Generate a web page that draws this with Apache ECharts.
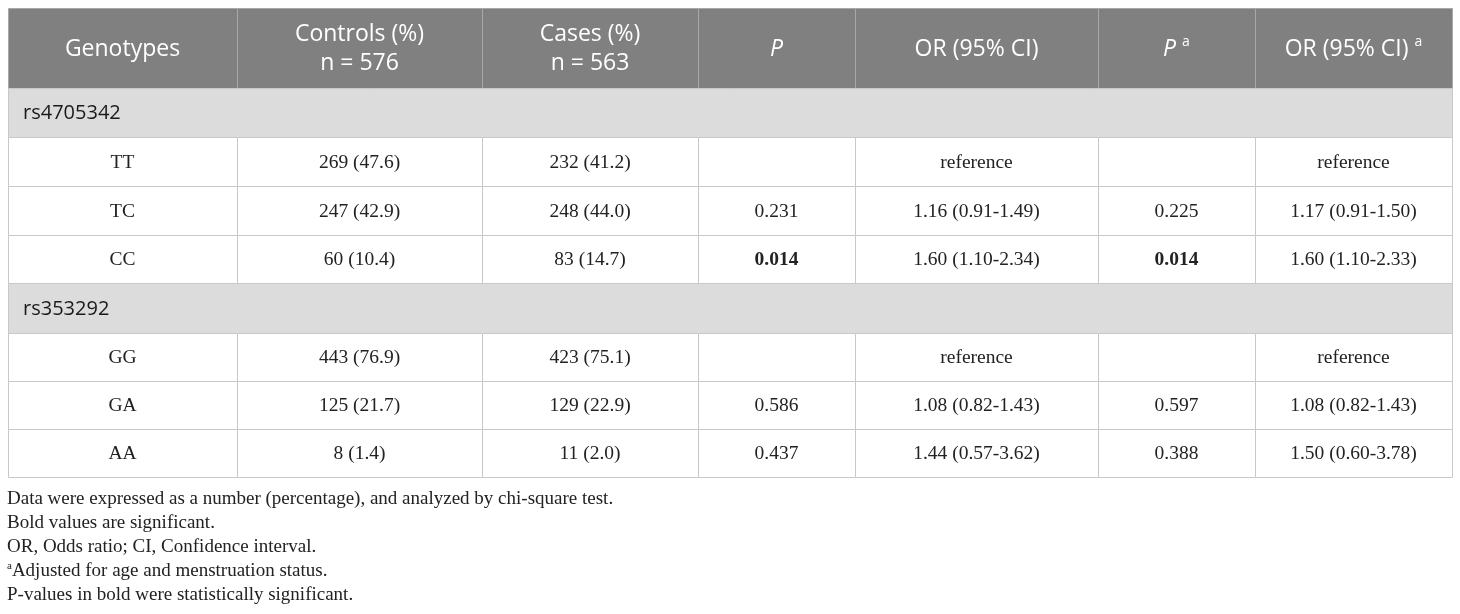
<!DOCTYPE html>
<html>
<head>
<meta charset="utf-8">
<script src="https://cdn.jsdelivr.net/npm/echarts@6/dist/echarts.min.js"></script>
<style>
html, body { margin: 0; padding: 0; background: #fff; }
#main { width: 1460px; height: 614px; }
</style>
</head>
<body>
<div id="main"></div>
<script>
// table content
const columns = ['Genotypes', 'Controls (%)', 'Cases (%)', 'P', 'OR (95% CI)', 'P', 'OR (95% CI)'];
const adjusted = [false, false, false, false, false, true, true];
const groupN = [576, 563];
const snps = ['rs4705342', 'rs353292'];
const genotypes = [['TT', 'TC', 'CC'], ['GG', 'GA', 'AA']];
const controlN = [[269, 247, 60], [443, 125, 8]];
const controlPct = [[47.6, 42.9, 10.4], [76.9, 21.7, 1.4]];
const caseN = [[232, 248, 83], [423, 129, 11]];
const casePct = [[41.2, 44.0, 14.7], [75.1, 22.9, 2.0]];
const pCrude = [[null, 0.231, 0.014], [null, 0.586, 0.437]];
const orCrude = [[null, 1.16, 1.60], [null, 1.08, 1.44]];
const orCrudeLow = [[null, 0.91, 1.10], [null, 0.82, 0.57]];
const orCrudeHigh = [[null, 1.49, 2.34], [null, 1.43, 3.62]];
const pAdj = [[null, 0.225, 0.014], [null, 0.597, 0.388]];
const orAdj = [[null, 1.17, 1.60], [null, 1.08, 1.50]];
const orAdjLow = [[null, 0.91, 1.10], [null, 0.82, 0.60]];
const orAdjHigh = [[null, 1.50, 2.33], [null, 1.43, 3.78]];
const footnotes = [
    'Data were expressed as a number (percentage), and analyzed by chi-square test.',
    'Bold values are significant.',
    'OR, Odds ratio; CI, Confidence interval.',
    '{sup|a}Adjusted for age and menstruation status.',
    'P-values in bold were statistically significant.'
];

// layout (pixels inside the grid)
const colEdges = [0, 229, 474, 690, 847, 1090, 1247, 1444];
const rowHeights = [80, 49, 49, 49, 48, 50, 48, 48, 48];
const rowEdges = [0];
rowHeights.forEach(h => rowEdges.push(rowEdges[rowEdges.length - 1] + h));

const sansFont = '"Open Sans", "Noto Sans", sans-serif';
const serifFont = '"Liberation Serif", "DejaVu Serif", serif';

const fmtOr = (v, lo, hi) => v == null ? 'reference' : v.toFixed(2) + ' (' + lo.toFixed(2) + '-' + hi.toFixed(2) + ')';
const fmtP = v => v == null ? '' : v.toFixed(3);

// build cells: [col, row, span] + text/kind
const cells = [];
columns.forEach((name, c) => {
    let text = name;
    if (c === 1 || c === 2) text = name + '\nn = ' + groupN[c - 1];
    if (name === 'P') text = '{i|P}';
    if (adjusted[c]) text += ' {sup|a}';
    cells.push({ value: [c, 0, 1], kind: 'head', text: text });
});
let row = 1;
snps.forEach((snp, g) => {
    cells.push({ value: [0, row, 7], kind: 'group', text: snp });
    row++;
    genotypes[g].forEach((gt, k) => {
        const vals = [
            gt,
            controlN[g][k] + ' (' + controlPct[g][k].toFixed(1) + ')',
            caseN[g][k] + ' (' + casePct[g][k].toFixed(1) + ')',
            fmtP(pCrude[g][k]),
            fmtOr(orCrude[g][k], orCrudeLow[g][k], orCrudeHigh[g][k]),
            fmtP(pAdj[g][k]),
            fmtOr(orAdj[g][k], orAdjLow[g][k], orAdjHigh[g][k])
        ];
        const bold = [false, false, false, pCrude[g][k] != null && pCrude[g][k] < 0.05, false,
            pAdj[g][k] != null && pAdj[g][k] < 0.05, false];
        vals.forEach((v, c) => {
            cells.push({ value: [c, row, 1], kind: 'data', text: v, bold: bold[c] });
        });
        row++;
    });
});

const renderItem = (params, api) => {
    const cell = cells[params.dataIndex];
    const c = api.value(0), r = api.value(1), span = api.value(2);
    const p0 = api.coord([colEdges[c], rowEdges[r]]);
    const p1 = api.coord([colEdges[c + span], rowEdges[r + 1]]);
    const x0 = Math.round(p0[0]), y0 = Math.round(p0[1]);
    const w = Math.round(p1[0]) - x0, h = Math.round(p1[1]) - y0;
    let fill = '#fff', stroke = '#c8c8c8';
    let textStyle;
    let tx = x0 + w / 2;
    if (cell.kind === 'head') {
        fill = '#808080';
        stroke = '#a8a8a8';
        textStyle = {
            text: cell.text, fill: '#fff', font: '23px ' + sansFont,
            align: 'center', verticalAlign: 'middle', lineHeight: 29,
            rich: {
                i: { fill: '#fff', fontFamily: sansFont, fontSize: 23, fontStyle: 'italic' },
                sup: { fill: '#fff', fontFamily: sansFont, fontSize: 14, padding: [0, 0, 14, 0] }
            }
        };
    } else if (cell.kind === 'group') {
        fill = '#dcdcdc';
        tx = x0 + 15;
        textStyle = {
            text: cell.text, fill: '#1a1a1a', font: '20px ' + sansFont,
            align: 'left', verticalAlign: 'middle'
        };
    } else {
        textStyle = {
            text: cell.text, fill: '#222',
            font: (cell.bold ? 'bold ' : '') + '19.5px ' + serifFont,
            align: 'center', verticalAlign: 'middle'
        };
    }
    return {
        type: 'group',
        children: [
            { type: 'rect', shape: { x: x0 + 0.5, y: y0 + 0.5, width: w, height: h },
              style: { fill: fill, stroke: stroke, lineWidth: 1 } },
            { type: 'text', x: tx, y: y0 + h / 2 + 1, style: textStyle }
        ]
    };
};

const chart = echarts.init(document.getElementById('main'));
chart.setOption({
    animation: false,
    title: {
        text: footnotes.join('\n'),
        left: 2,
        top: 482,
        textStyle: {
            fontFamily: serifFont, fontSize: 19, fontWeight: 'normal', color: '#222', lineHeight: 24,
            rich: { sup: { fontFamily: serifFont, fontSize: 11, color: '#222', padding: [0, 0, 9, 0] } }
        }
    },
    grid: { left: 8, top: 8, width: 1444, height: rowEdges[rowEdges.length - 1] },
    xAxis: { type: 'value', min: 0, max: colEdges[colEdges.length - 1], show: false },
    yAxis: { type: 'value', min: 0, max: rowEdges[rowEdges.length - 1], inverse: true, show: false },
    series: [{
        type: 'custom',
        renderItem: renderItem,
        data: cells,
        encode: { x: 0, y: 1 }
    }]
});
</script>
</body>
</html>
